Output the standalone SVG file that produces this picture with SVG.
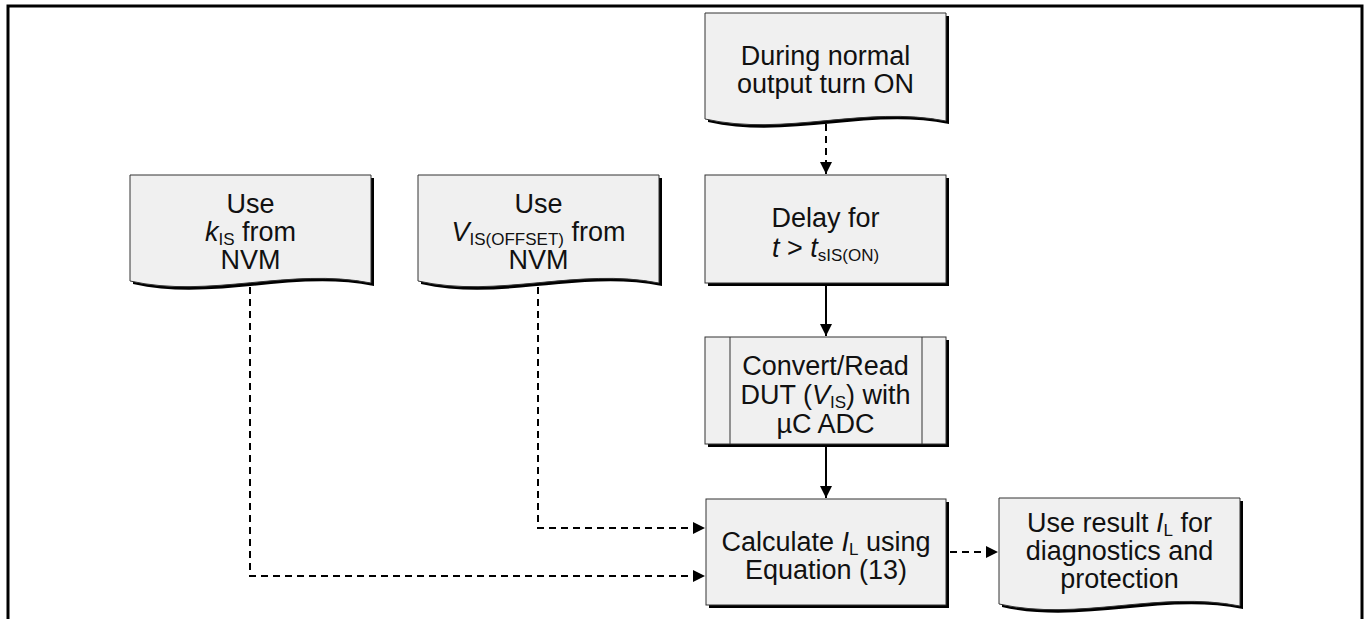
<svg xmlns="http://www.w3.org/2000/svg" width="1367" height="619" viewBox="0 0 1367 619">
<defs>
<style>
.t{font-family:"Liberation Sans",Arial,sans-serif;font-size:27px;fill:#111;text-anchor:middle}
.i{font-style:italic}
.s{font-size:17px}
.box{fill:#f0f0f0;stroke:#333;stroke-width:1}
.sh{fill:#000}
.ln{fill:none;stroke:#000;stroke-width:2}
.ds{fill:none;stroke:#000;stroke-width:2;stroke-dasharray:7 5}
.frame{fill:none;stroke:#000;stroke-width:3}
</style>
<marker id="ah" markerUnits="userSpaceOnUse" markerWidth="13" markerHeight="13" refX="12" refY="6" orient="auto">
<path d="M0,0 L12,6 L0,12 Z" fill="#000"/>
</marker>
<path id="doc" d="M0,0 H241 V108 C160,92 80,124 0,106 Z"/>
</defs>
<rect width="1367" height="619" fill="#fff"/>
<path class="frame" d="M8,619 V6 H1362 V619"/>

<g id="connectors">
<path class="ds" d="M826,124 V174" marker-end="url(#ah)"/>
<path class="ln" d="M826,286 V336" marker-end="url(#ah)"/>
<path class="ln" d="M826,447 V498" marker-end="url(#ah)"/>
<path class="ds" d="M250,287 V576 H705" marker-end="url(#ah)"/>
<path class="ds" d="M538,287 V528 H705" marker-end="url(#ah)"/>
<path class="ds" d="M950,552 H998" marker-end="url(#ah)"/>
</g>

<g id="n-during" transform="translate(705,13)">
<use href="#doc" class="sh" transform="translate(3,3)"/>
<use href="#doc" class="box"/>
<text class="t" x="120.5" y="52">During normal</text>
<text class="t" x="120.5" y="80">output turn ON</text>
</g>

<g id="n-kis" transform="translate(130,175)">
<use href="#doc" class="sh" transform="translate(3,3)"/>
<use href="#doc" class="box"/>
<text class="t" x="120.5" y="38">Use</text>
<text class="t" x="120.5" y="66"><tspan class="i">k</tspan><tspan class="s" dy="4">IS</tspan><tspan dy="-4"> from</tspan></text>
<text class="t" x="120.5" y="94">NVM</text>
</g>

<g id="n-vis" transform="translate(418,175)">
<use href="#doc" class="sh" transform="translate(3,3)"/>
<use href="#doc" class="box"/>
<text class="t" x="120.5" y="38">Use</text>
<text class="t" x="120.5" y="66"><tspan class="i">V</tspan><tspan class="s" dy="4">IS(OFFSET)</tspan><tspan dy="-4"> from</tspan></text>
<text class="t" x="120.5" y="94">NVM</text>
</g>

<g id="n-delay" transform="translate(705,175)">
<rect class="sh" x="3" y="3" width="241" height="108"/>
<rect class="box" x="0" y="0" width="241" height="108"/>
<text class="t" x="120.5" y="52">Delay for</text>
<text class="t" x="120.5" y="82"><tspan class="i">t</tspan><tspan> &gt; </tspan><tspan class="i">t</tspan><tspan class="s" dy="4">sIS(ON)</tspan></text>
</g>

<g id="n-convert" transform="translate(705,337)">
<rect class="sh" x="3" y="3" width="241" height="107"/>
<rect class="box" x="0" y="0" width="241" height="107"/>
<path d="M25,0 V107 M217,0 V107" stroke="#333" stroke-width="1"/>
<text class="t" x="120.5" y="38">Convert/Read</text>
<text class="t" x="120.5" y="67">DUT (<tspan class="i">V</tspan><tspan class="s" dy="4">IS</tspan><tspan dy="-4">) with</tspan></text>
<text class="t" x="120.5" y="96">µC ADC</text>
</g>

<g id="n-calc" transform="translate(706,499)">
<rect class="sh" x="3" y="3" width="240" height="106"/>
<rect class="box" x="0" y="0" width="240" height="106"/>
<text class="t" x="120" y="52">Calculate <tspan class="i">I</tspan><tspan class="s" dy="4">L</tspan><tspan dy="-4"> using</tspan></text>
<text class="t" x="120" y="80">Equation (13)</text>
</g>

<g id="n-result" transform="translate(999,498)">
<use href="#doc" class="sh" transform="translate(3,3)"/>
<use href="#doc" class="box"/>
<text class="t" x="120.5" y="34">Use result <tspan class="i">I</tspan><tspan class="s" dy="4">L</tspan><tspan dy="-4"> for</tspan></text>
<text class="t" x="120.5" y="62">diagnostics and</text>
<text class="t" x="120.5" y="90">protection</text>
</g>
</svg>
